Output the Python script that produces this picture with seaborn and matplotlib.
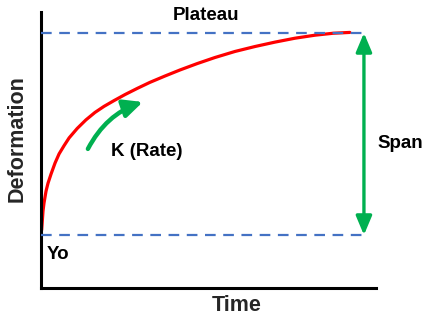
import matplotlib
matplotlib.use("Agg")
import matplotlib.pyplot as plt
import seaborn as sns

# Curve (time vs deformation, both on a 0-100 scale)
time = [0.2, 0.6, 0.9, 1.5, 2.1, 3.0, 4.2, 5.4, 6.9, 8.4, 10.8, 13.4, 16.1,
        18.8, 21.8, 25.1, 28.7, 32.5, 37.0, 41.5, 46.6, 51.9, 57.9, 63.9,
        69.9, 75.8, 81.8, 87.2, 92.2]
deformation = [21.0, 27.9, 30.8, 35.1, 38.0, 41.3, 45.3, 48.6, 51.6, 54.4,
               57.8, 60.9, 63.6, 65.8, 67.9, 70.1, 72.3, 74.5, 76.8, 79.0,
               81.3, 83.5, 85.7, 87.5, 89.1, 90.5, 91.6, 92.3, 92.6]

y0 = 19.2        # starting level
plateau = 92.4   # final level
span_x = 96.4    # where the span arrow sits

sns.set_theme(style="white")
plt.rcParams['font.family'] = ['Liberation Sans', 'DejaVu Sans']

fig = plt.figure(figsize=(4.24, 3.18), dpi=100)
ax = fig.add_axes([41 / 424, 30 / 318, 335 / 424, 276 / 318])

# reference levels
ax.hlines([y0, plateau], 0, span_x, colors='#4472C4', linewidth=1.6,
          linestyles=(0, (4.8, 3.4)), zorder=3)

# the association curve
sns.lineplot(x=time, y=deformation, ax=ax, color='#FF0000', linewidth=2.3,
             zorder=2, solid_joinstyle='round', solid_capstyle='round')

# span arrow
ax.annotate('', xy=(span_x, plateau), xytext=(span_x, y0),
            arrowprops=dict(arrowstyle='<|-|>,head_length=0.95,head_width=0.4',
                            color='#00B050', lw=2.4, shrinkA=0, shrinkB=0))

# rate arrow
ax.annotate('', xy=(30.4, 67.4), xytext=(14.0, 50.4),
            arrowprops=dict(arrowstyle='-|>,head_length=0.95,head_width=0.45',
                            color='#00B050', lw=3.2, shrinkA=0, shrinkB=0,
                            connectionstyle='arc3,rad=-0.2'))

txt = dict(fontsize=13.5, fontweight='bold', color='black', clip_on=False)
ax.text(49.4, 98.7, 'Plateau', ha='center', va='center', **txt)
ax.text(31.6, 49.6, 'K (Rate)', ha='center', va='center', **txt)
ax.text(100.3, 52.2, 'Span', ha='left', va='center', **txt)
ax.text(1.8, 12.0, 'Yo', ha='left', va='center', **txt)

ax.set_xlim(0, 100)
ax.set_ylim(0, 100)
ax.set_xticks([])
ax.set_yticks([])

ax.set_xlabel('Time', fontsize=15.5, fontweight='bold', va='center')
ax.set_ylabel('Deformation', fontsize=15.5, fontweight='bold', va='center')
ax.xaxis.set_label_coords(0.585, -0.0616)
ax.yaxis.set_label_coords(-0.070, 0.543)

for side in ['top', 'right']:
    ax.spines[side].set_visible(False)
for side in ['left', 'bottom']:
    ax.spines[side].set_color('black')
    ax.spines[side].set_linewidth(2.2)

fig.savefig('out.png', dpi=100)
plt.close(fig)
